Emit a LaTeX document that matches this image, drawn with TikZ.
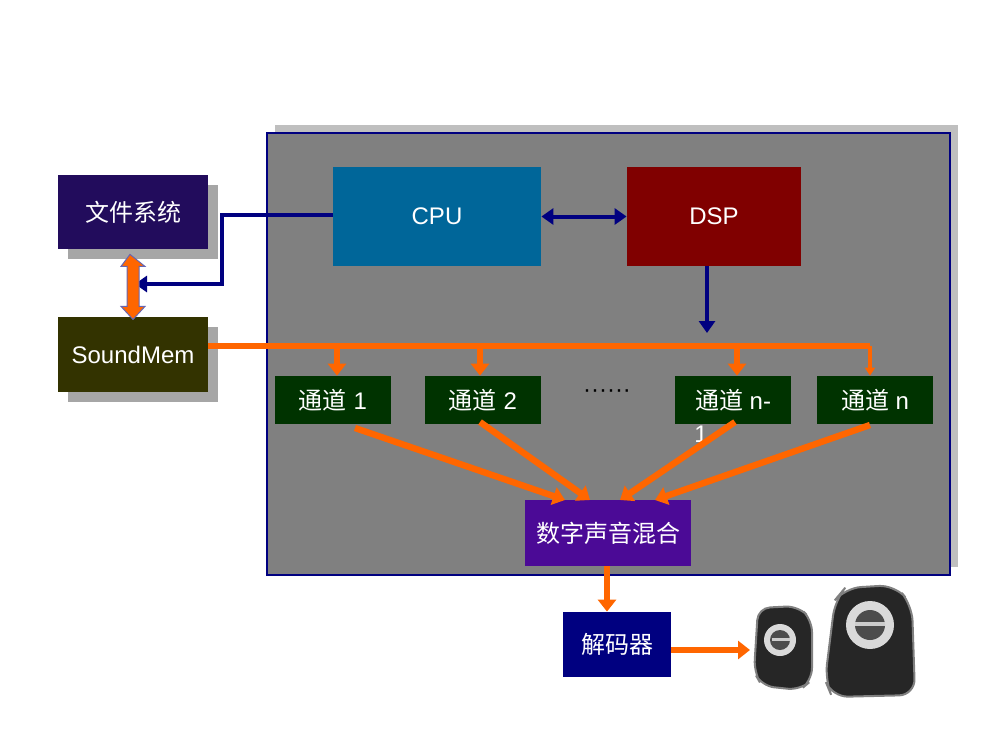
\documentclass[tikz,border=0pt]{standalone}
\usepackage{fontspec}
\setmainfont{Liberation Sans}
\newfontfamily\cjk{Noto Sans CJK SC}
\usetikzlibrary{arrows.meta,positioning}
\definecolor{fsblue}{HTML}{220C5C}
\definecolor{memolive}{HTML}{333300}
\definecolor{cpublue}{HTML}{006699}
\definecolor{dspred}{HTML}{800000}
\definecolor{chgreen}{HTML}{003300}
\definecolor{mixpurple}{HTML}{4B0A96}
\definecolor{decblue}{HTML}{000080}
\definecolor{flow}{HTML}{FF6600}
\tikzset{
  box/.style={draw=none,text=white,inner sep=0pt,font=\large},
  shadowed/.style={box},
  chan/.style={box,fill=chgreen,minimum width=58pt,minimum height=24pt},
  ctrl/.style={draw=decblue,line width=2pt,-{Triangle[length=6pt,width=8pt]}},
  data/.style={draw=flow,line width=3.2pt,-{Triangle[length=6pt,width=9pt]}},
}
\begin{document}
\begin{tikzpicture}[x=0.5pt,y=-0.5pt]
\useasboundingbox (0,0) rectangle (1000,750);
% board
\fill[black!25] (275,125) rectangle (958,567);
\filldraw[fill=black!50,draw=decblue,line width=0.6pt] (267,133) rectangle (950,575);

% left side
\fill[black!35] (68,185) rectangle (218,259);
\fill[black!35] (68,327) rectangle (218,402);
\node[box,fill=fsblue,minimum width=75pt,minimum height=37pt,font=\cjk\large] (fs) at (133,212) {文件系统};
\node[box,fill=memolive,minimum width=75pt,minimum height=37.5pt] (mem) at (133,354.5) {SoundMem};

% processors
\node[box,fill=cpublue,minimum width=104pt,minimum height=49.5pt] (cpu) at (437,216.5) {\raisebox{-8pt}{CPU}};
\node[box,fill=dspred,minimum width=87pt,minimum height=49.5pt] (dsp) at (714,216.5) {DSP};

% channels
\node[chan] (ch1) at (333,400) {{\cjk 通道} 1};
\node[chan] (ch2) at (483,400) {{\cjk 通道} 2};
\node[chan] (chm) at (733,400) {{\cjk 通道} n-};
\node[text=white,font=\large,inner sep=0pt] (chm1) at (701,434) {1};
\node[chan] (chn) at (875,400) {{\cjk 通道} n};
\node[font=\large] (dots) at (607,394) {\textperiodcentered\textperiodcentered\textperiodcentered\textperiodcentered\textperiodcentered\textperiodcentered};

% mixer, decoder
\node[box,fill=mixpurple,minimum width=83pt,minimum height=33pt,font=\cjk\large] (mix) at (608,533) {数字声音混合};
\node[box,fill=decblue,minimum width=54pt,minimum height=32.5pt,font=\cjk\large] (dec) at (617,644.5) {解码器};

% control lines
\coordinate (bend) at (222,215);
\draw[ctrl] (cpu.west|-0,215) -- (bend) -- (222,284) -- (135,284);
\draw[ctrl,{Triangle[length=6pt,width=8pt]}-{Triangle[length=6pt,width=8pt]}] (cpu.east) -- (dsp.west);
\draw[ctrl] (707,266) -- (707,333);

% data lines
\draw[draw=decblue!60,fill=flow,line width=0.5pt] (fs.south)++(-3,5) -- ++(-9,12) -- ++(6,0) -- ++(0,40) -- ++(-6,0) -- ++(12,13) -- ++(12,-13) -- ++(-6,0) -- ++(0,-40) -- ++(6,0) -- cycle;
\draw[flow,line width=3.2pt] (mem.east|-0,346) -- (870,346);
\foreach \x/\n in {337/ch1,480/ch2,737/chm} {
  \draw[data] (\x,346) -- (\n.north-|\x,0);
}
\draw[flow,line width=1.6pt,-{Triangle[length=4pt,width=5pt]}] (870,346) -- (chn.north-|870,0);
\draw[data] (355,428) -- (565,500);
\draw[data] (480,422) -- (590,500);
\draw[data] (735,422) -- (620,500);
\draw[data] (870,425) -- (655,500);
\draw[data] (mix.south-|607,0) -- (dec.north-|607,0);
\draw[data] (dec.east|-0,650) -- (750,650);

% speakers
\filldraw[fill=black!85,draw=black!50,line width=1pt,rounded corners=6pt] (758,608) -- (798,606) -- (812,620) -- (812,680) -- (800,690) -- (762,686) -- (754,672) -- cycle;
\fill[black!15] (780,640) circle (16);
\fill[black!70] (780,640) circle (10);
\fill[black!20] (772,638) rectangle (790,641);
\filldraw[fill=black!85,draw=black!50,line width=1pt,rounded corners=8pt] (845,588) -- (895,585) -- (912,605) -- (915,695) -- (832,697) -- (825,680) -- (835,600) -- cycle;
\fill[black!15] (870,625) circle (24);
\fill[black!70] (870,625) circle (15);
\fill[black!20] (855,622) rectangle (885,626);
\end{tikzpicture}
\end{document}
